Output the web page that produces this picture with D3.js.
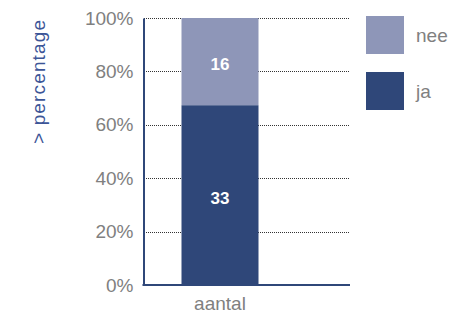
<!DOCTYPE html>
<html><head><meta charset="utf-8">
<script src="https://cdn.jsdelivr.net/npm/d3@7"></script>
<style>
html,body{margin:0;padding:0;background:#fff;}
svg{display:block;font-family:"Liberation Sans",Arial,Helvetica,sans-serif;}
</style></head>
<body><svg id="c" width="453" height="319"></svg>
<script>
const categories = ["aantal"];
const seriesNames = ["ja", "nee"];
const jaValues = [33];
const neeValues = [16];
const yTicks = [0, 0.2, 0.4, 0.6, 0.8, 1.0];
const colors = {ja: "#2f4779", nee: "#8e96b8"};

(function () {
const svg = d3.select("#c");
const mLeft = 143.5, mRight = 350, mTop = 18, mBottom = 285;

const y = d3.scaleLinear().domain([0, 1]).range([mBottom, mTop]);
const x = d3.scaleBand().domain(categories).range([143, 297]).paddingInner(0.5).paddingOuter(0.25);

// gridlines
svg.append("g").selectAll("line").data(yTicks.filter(d => d > 0)).join("line")
  .attr("x1", mLeft).attr("x2", mRight)
  .attr("y1", d => Math.round(y(d)) + 0.5).attr("y2", d => Math.round(y(d)) + 0.5)
  .attr("stroke", "#333").attr("stroke-width", 1).attr("stroke-dasharray", "1,1")
  .attr("shape-rendering", "crispEdges");

// stacked data
const rows = categories.map((c, i) => ({cat: c, ja: jaValues[i], nee: neeValues[i]}));
const stack = d3.stack().keys(seriesNames).offset(d3.stackOffsetExpand);
const series = stack(rows);

const g = svg.append("g");
series.forEach(s => {
  g.selectAll(null).data(s).join("rect")
    .attr("x", d => x(d.data.cat)).attr("width", x.bandwidth())
    .attr("y", d => y(d[1])).attr("height", d => y(d[0]) - y(d[1]))
    .attr("fill", colors[s.key]);
  g.selectAll(null).data(s).join("text")
    .attr("x", d => x(d.data.cat) + x.bandwidth() / 2)
    .attr("y", d => (y(d[0]) + y(d[1])) / 2 + 3)
    .attr("text-anchor", "middle").attr("dominant-baseline", "central")
    .attr("fill", "#fff").attr("font-weight", "bold").attr("font-size", 17)
    .attr("font-family", "'Liberation Sans',Arial,sans-serif")
    .text(d => d.data[s.key]);
});

// y axis
const yAxis = d3.axisLeft(y).tickValues(yTicks).tickFormat(d3.format(".0%")).tickSize(0).tickPadding(10);
const ya = svg.append("g").attr("transform", `translate(${mLeft},0)`).call(yAxis);
ya.select(".domain").attr("stroke", "#2f4779").attr("stroke-width", 2);
ya.selectAll("text").attr("font-size", 19).attr("fill", "#808080").attr("font-family", "'Liberation Sans',Arial,sans-serif");

// x axis
const xAxis = d3.axisBottom(x).tickSize(0).tickPadding(12);
const xa = svg.append("g").attr("transform", `translate(0,${mBottom})`).call(xAxis);
xa.select(".domain").remove();
xa.selectAll("text").attr("font-size", 19).attr("fill", "#808080").attr("font-family", "'Liberation Sans',Arial,sans-serif");
svg.append("line").attr("x1", mLeft - 1).attr("x2", mRight).attr("y1", mBottom).attr("y2", mBottom)
  .attr("stroke", "#2f4779").attr("stroke-width", 2);

// y title
svg.append("text")
  .attr("transform", "translate(45,20) rotate(-90)")
  .attr("text-anchor", "end").attr("font-size", 19).attr("fill", "#3c5597")
  .attr("textLength", 124).attr("lengthAdjust", "spacing")
  .text("> percentage");

// legend
const legendItems = ["nee", "ja"];
const lg = svg.append("g").selectAll("g").data(legendItems).join("g")
  .attr("transform", (d, i) => `translate(366,${16 + i * 56})`);
lg.append("rect").attr("width", 38).attr("height", 38).attr("fill", d => colors[d]);
lg.append("text").attr("x", 50).attr("y", 26).attr("font-size", 19).attr("fill", "#808080").text(d => d);
})();
</script></body></html>
